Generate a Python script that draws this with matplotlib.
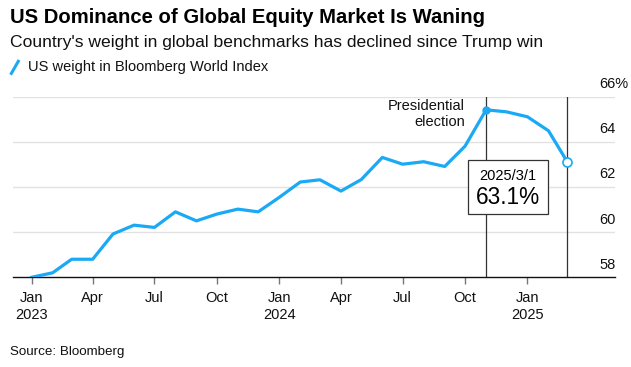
"""US weight in Bloomberg World Index, monthly, Jan 2023 - Mar 2025."""
import matplotlib
matplotlib.use("Agg")
import matplotlib.pyplot as plt
import matplotlib.dates as mdates
from matplotlib.lines import Line2D
import pandas as pd

plt.rcParams["font.family"] = ["Liberation Sans", "DejaVu Sans"]

# monthly observations (first of month)
months = pd.date_range("2023-01-01", "2025-03-01", freq="MS")
us_weight = [
    58.00, 58.20, 58.80, 58.80, 59.92, 60.31, 60.21, 60.90, 60.50, 60.80, 61.02, 60.90,
    61.54, 62.22, 62.32, 61.82, 62.33, 63.31, 63.01, 63.12, 62.91, 63.81, 65.42, 65.33,
    65.11, 64.49, 63.10,
]
election = pd.Timestamp("2024-11-01")
y_ticks = [58, 60, 62, 64, 66]
y_labels = ["58", "60", "62", "64", "66%"]

BLUE = "#1aa9f5"

fig = plt.figure(figsize=(6.31, 3.67), dpi=100)
ax = fig.add_axes([0.0211, 0.2444, 0.9535, 0.4921])

ax.plot(months, us_weight, color=BLUE, lw=2.3, solid_joinstyle="round", zorder=3)
ax.plot(election, us_weight[months.get_loc(election)], "o", color=BLUE, ms=5, zorder=4)
ax.plot(months[-1], us_weight[-1], "o", mfc="white", mec=BLUE, mew=1.2, ms=6.5, zorder=5)

for d in (election, months[-1]):
    ax.axvline(d, color="#333333", lw=0.9, zorder=2)

ax.set_ylim(58, 66)
ax.set_xlim(pd.Timestamp("2022-12-05"), pd.Timestamp("2025-05-10"))
for v in y_ticks[1:]:
    ax.axhline(v, color="#e2e2e2", lw=1.0, zorder=1)
ax.set_yticks([])
for v, lab in zip(y_ticks, y_labels):
    ax.text(0.9745, v + 0.25, lab, transform=ax.get_yaxis_transform(),
            ha="left", va="bottom", fontsize=10.5, color="#111111")

for s in ("top", "right", "left"):
    ax.spines[s].set_visible(False)
ax.spines["bottom"].set_linewidth(1.0)
ax.spines["bottom"].set_color("#111111")

ticks = pd.date_range("2023-01-01", "2025-01-01", freq="QS")
ax.set_xticks(ticks)
ax.set_xticklabels([d.strftime("%b") + (f"\n{d.year}" if d.month == 1 else "") for d in ticks],
                   fontsize=10.5, color="#111111", linespacing=1.3)
ax.tick_params(axis="x", length=5, width=1, color="#777777", pad=5)

ax.text(pd.Timestamp("2024-10-01"), 64.57, "Presidential\nelection", ha="right", va="bottom",
        fontsize=10.5, color="#111111", linespacing=1.15)

# hover box
bx0 = mdates.date2num(pd.Timestamp("2024-10-06"))
ax.add_patch(plt.Rectangle((bx0, 60.8), 117, 2.39, fc="white", ec="#333333", lw=0.9,
                           zorder=6))
ax.text(bx0 + 58.5, 62.48, "2025/3/1", ha="center", va="center", fontsize=10.5, zorder=7)
ax.text(bx0 + 58.5, 61.55, f"{us_weight[-1]:.1f}%", ha="center", va="center",
        fontsize=16.3, zorder=7)

fig.text(0.016, 0.953, "US Dominance of Global Equity Market Is Waning", fontsize=14.6,
         fontweight="bold", va="center", color="#000000")
fig.text(0.016, 0.883, "Country's weight in global benchmarks has declined since Trump win",
         fontsize=12.6, va="center", color="#111111")
fig.add_artist(Line2D([0.018, 0.029], [0.800, 0.833], color=BLUE, lw=2.2,
                      transform=fig.transFigure))
fig.text(0.044, 0.818, "US weight in Bloomberg World Index", fontsize=10.5, va="center",
         color="#111111")
fig.text(0.016, 0.04, "Source: Bloomberg", fontsize=9.6, va="center", color="#111111")

fig.savefig("out.png", dpi=100)
